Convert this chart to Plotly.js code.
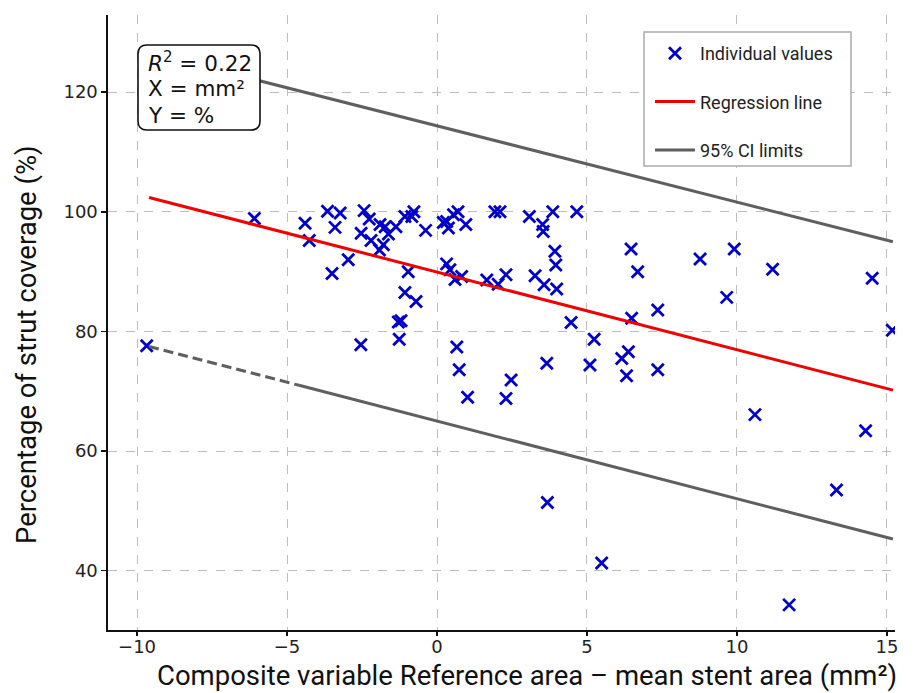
<!DOCTYPE html>
<html>
<head>
<meta charset="utf-8">
<script src="https://cdn.plot.ly/plotly-3.0.1.min.js"></script>
<style>html,body{margin:0;padding:0;background:#fff;}#chart{width:917px;height:693px;}</style>
</head>
<body>
<div id="chart"></div>
<script>
// Individual values (x: reference area - mean stent area, mm²; y: strut coverage, %)
const pointX = [-9.68,-6.09,-4.40,-4.26,-3.65,-3.23,-3.40,-3.50,-2.96,-2.43,-2.26,-2.53,-2.20,-1.90,-1.73,-1.62,-1.92,-1.79,-1.37,-1.07,-0.77,-0.84,-0.38,-0.96,-1.07,-0.70,-1.20,-1.29,-1.26,-2.54,0.21,0.32,0.38,0.55,0.70,0.96,1.93,2.10,3.08,3.52,3.54,3.86,4.66,0.32,0.43,0.60,0.82,1.66,2.04,2.30,3.27,3.57,3.99,3.93,3.96,4.47,0.66,0.74,1.02,2.47,2.30,3.66,6.47,6.69,8.77,9.91,9.66,6.49,7.36,5.24,5.10,6.38,6.16,6.32,7.36,10.60,5.49,11.19,14.51,15.18,14.29,13.32,11.74,3.68];
const pointY = [77.6,98.9,98.1,95.2,100.1,99.8,97.4,89.7,92.0,100.2,98.8,96.4,95.2,97.9,97.5,96.3,93.6,94.5,97.5,99.2,100.0,99.2,96.9,90.0,86.5,85.0,81.8,81.6,78.7,77.8,98.2,98.4,97.3,99.5,100.0,97.9,100.0,100.0,99.2,97.9,96.7,100.0,100.0,91.3,90.3,88.7,89.2,88.6,87.9,89.5,89.3,87.8,87.1,93.4,91.1,81.5,77.4,73.6,69.0,71.9,68.8,74.7,93.8,90.0,92.1,93.8,85.7,82.2,83.6,78.7,74.4,76.6,75.5,72.6,73.6,66.1,41.3,90.4,88.9,80.2,63.4,53.5,34.3,51.4];

// Regression line and 95% CI limits (end points)
const lineX = [-9.6, 15.2];
const regY = [102.4, 70.2];
const upperY = [126.6, 95.0];
const lowerSolidX = [-4.6, 15.2];
const lowerSolidY = [71.0, 45.3];
const lowerDashX = [-9.6, -4.6];
const lowerDashY = [77.5, 71.0];

const xTicks = [-10, -5, 0, 5, 10, 15];
const yTicks = [40, 60, 80, 100, 120];

const statLines = ['<i>R</i><sup>2</sup> = 0.22', 'X = mm\u00b2', 'Y = %'];

const labelFont = "Roboto, 'Open Sans', sans-serif";
const tickFont = {family: "'DejaVu Sans', sans-serif", size: 18, color: '#222'};

// pixel -> paper helpers (plot area: x 108..895, y 15..630)
const L = 108, R = 895, T = 15, B = 630;
const px = v => (v - L) / (R - L);
const py = v => (B - v) / (B - T);

function roundRect(x0, y0, x1, y1, r) {
  const rx = r / (R - L), ry = r / (B - T);
  const a = px(x0), b = px(x1), c = py(y1), d = py(y0); // c bottom, d top
  return `M ${a + rx} ${c} L ${b - rx} ${c} Q ${b} ${c} ${b} ${c + ry} L ${b} ${d - ry} Q ${b} ${d} ${b - rx} ${d} ` +
         `L ${a + rx} ${d} Q ${a} ${d} ${a} ${d - ry} L ${a} ${c + ry} Q ${a} ${c} ${a + rx} ${c} Z`;
}

const traces = [
  {x: pointX, y: pointY, type: 'scatter', mode: 'markers', name: 'Individual values',
   legendgroup: 'a',
   marker: {symbol: 'x-thin', size: 12, color: '#0000CD', line: {width: 2.8, color: '#0000CD'}}},
  {x: lineX, y: regY, type: 'scatter', mode: 'lines', name: 'Regression line',
   legendgroup: 'b', line: {color: '#F00000', width: 3}},
  {x: lineX, y: upperY, type: 'scatter', mode: 'lines', name: '95% CI limits',
   legendgroup: 'c', line: {color: '#5f5f5f', width: 3}},
  {x: lowerSolidX, y: lowerSolidY, type: 'scatter', mode: 'lines', name: '95% CI limits',
   legendgroup: 'c', showlegend: false, line: {color: '#5f5f5f', width: 3}},
  {x: lowerDashX, y: lowerDashY, type: 'scatter', mode: 'lines', name: '95% CI limits',
   legendgroup: 'c', showlegend: false, line: {color: '#5f5f5f', width: 3, dash: '10px,5px'}}
];

const annotations = statLines.map((t, i) => ({
  xref: 'paper', yref: 'paper', x: px(146), y: py(62 + i * 26.5),
  xanchor: 'left', yanchor: 'middle', align: 'left', showarrow: false,
  text: t, font: {family: "'DejaVu Sans', sans-serif", size: 21.5, color: '#111'}
}));
annotations.push({
  xref: 'paper', yref: 'paper', x: px(527), y: py(694),
  xanchor: 'center', yanchor: 'bottom', showarrow: false,
  text: 'Composite variable Reference area \u2013 mean stent area (mm\u00b2)',
  font: {family: labelFont, size: 27.5, color: '#111'}
});
annotations.push({
  xref: 'paper', yref: 'paper', x: px(26), y: py(345),
  xanchor: 'center', yanchor: 'middle', showarrow: false, textangle: -90,
  text: 'Percentage of strut coverage (%)',
  font: {family: labelFont, size: 27.5, color: '#111'}
});

const layout = {
  width: 917, height: 693,
  margin: {l: L, r: 917 - R, t: T, b: 693 - B},
  paper_bgcolor: '#fff', plot_bgcolor: '#fff',
  showlegend: true,
  legend: {x: px(650), y: py(35), xanchor: 'left', yanchor: 'top',
    bgcolor: 'rgba(0,0,0,0)', borderwidth: 0,
    font: {family: labelFont, size: 18, color: '#222'},
    tracegroupgap: 22, traceorder: 'grouped', itemwidth: 40},
  xaxis: {range: [-10.97, 15.27], tickvals: xTicks, ticktext: xTicks.map(v => v < 0 ? '\u2212' + Math.abs(v) : String(v)),
    showline: true, linecolor: '#111', linewidth: 1.6, mirror: false,
    ticks: 'outside', ticklen: 4, tickwidth: 1.4, tickcolor: '#111', ticklabelstandoff: -4,
    showgrid: true, gridcolor: '#bdbdbd', griddash: 'dash', gridwidth: 1,
    zeroline: false, tickfont: tickFont, automargin: false},
  yaxis: {range: [30.1, 132.9], tickvals: yTicks,
    showline: true, linecolor: '#111', linewidth: 1.6, mirror: false,
    ticks: 'outside', ticklen: 5, tickwidth: 1.4, tickcolor: '#111',
    showgrid: true, gridcolor: '#bdbdbd', griddash: 'dash', gridwidth: 1,
    zeroline: false, tickfont: tickFont, automargin: false},
  shapes: [
    {type: 'path', xref: 'paper', yref: 'paper', path: roundRect(138, 45, 260, 130, 9),
     fillcolor: '#fff', line: {color: '#111', width: 1.6}, layer: 'above'},
    {type: 'rect', xref: 'paper', yref: 'paper', x0: px(644), x1: px(851), y0: py(166), y1: py(32),
     fillcolor: '#fff', line: {color: '#aaa', width: 1.5}, layer: 'above'}
  ],
  annotations: annotations
};

Plotly.newPlot('chart', traces, layout, {displayModeBar: false, staticPlot: true});
</script>
</body>
</html>
